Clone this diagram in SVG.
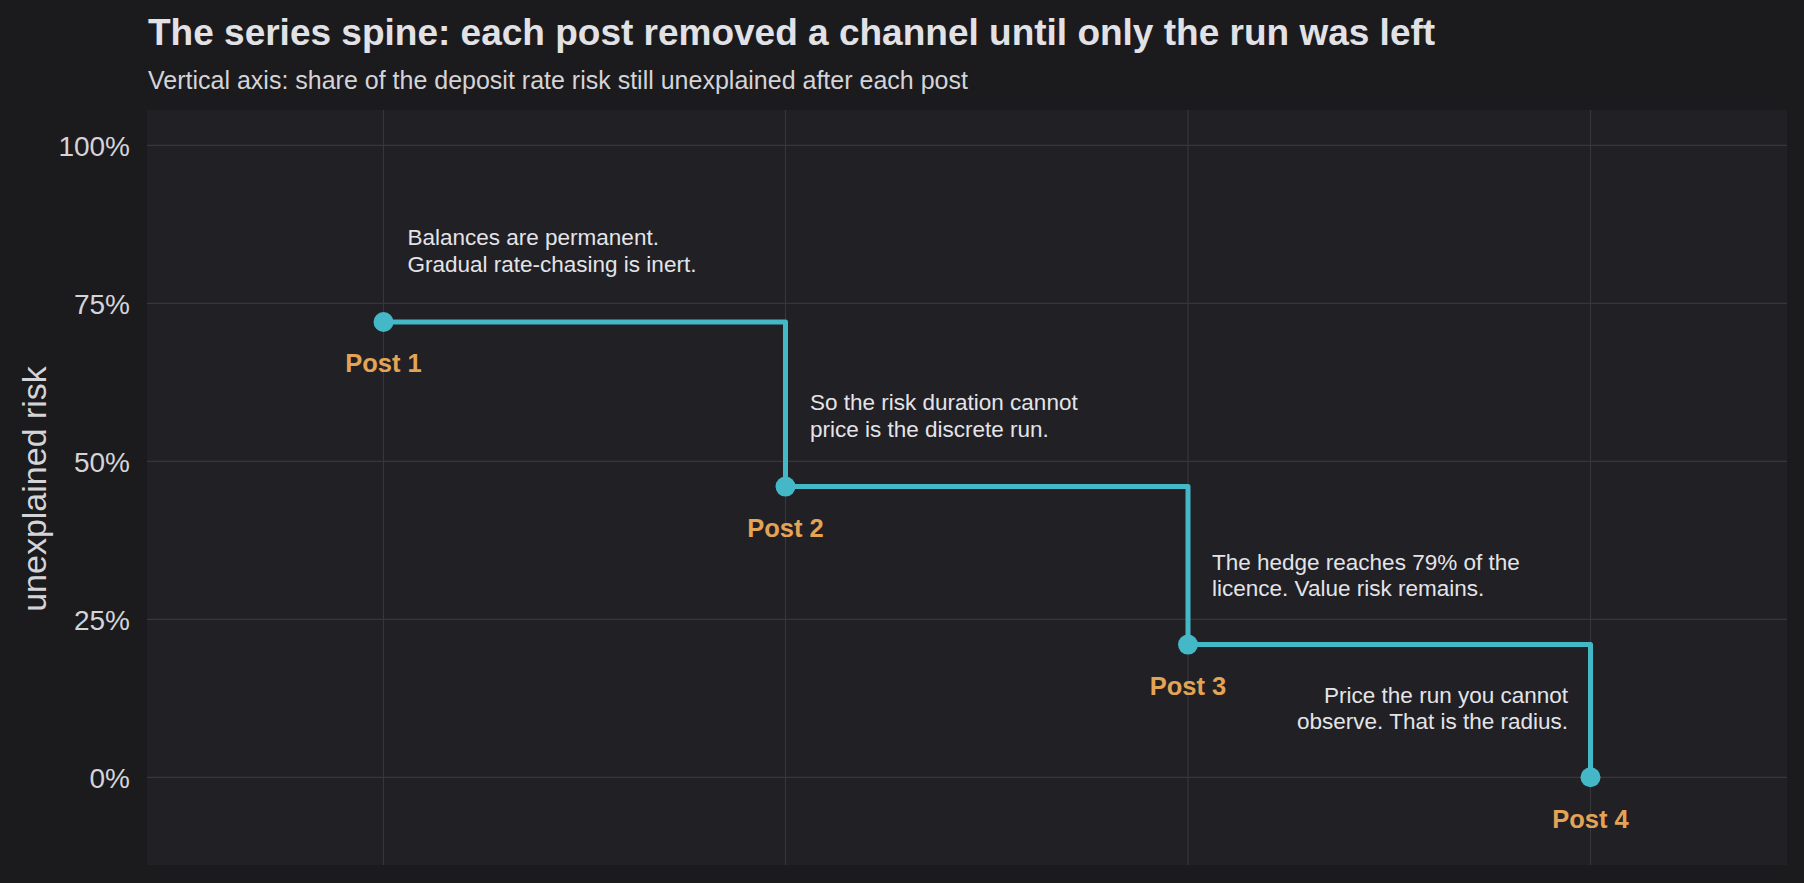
<svg xmlns="http://www.w3.org/2000/svg" width="1804" height="883" viewBox="0 0 1804 883">
<style>
text{font-family:"Liberation Sans",Arial,sans-serif}
.grid{stroke:#36363d;stroke-width:1.2}
.tick{fill:#d4d4d8;font-size:28px;text-anchor:end}
.ann{fill:#e4e4e8;font-size:22.5px}
.post{fill:#e3a455;font-size:25.5px;font-weight:bold;text-anchor:middle}
.dot{fill:#45b8c8}
</style>
<rect width="1804" height="883" fill="#1b1b1e"/>
<rect x="147" y="110" width="1640" height="755" fill="#202025"/>
<g id="grid">
<line class="grid" x1="147" y1="145.3" x2="1787" y2="145.3"/>
<line class="grid" x1="147" y1="303.3" x2="1787" y2="303.3"/>
<line class="grid" x1="147" y1="461.3" x2="1787" y2="461.3"/>
<line class="grid" x1="147" y1="619.3" x2="1787" y2="619.3"/>
<line class="grid" x1="147" y1="777.3" x2="1787" y2="777.3"/>
<line class="grid" x1="383.5" y1="110" x2="383.5" y2="865"/>
<line class="grid" x1="785.5" y1="110" x2="785.5" y2="865"/>
<line class="grid" x1="1188" y1="110" x2="1188" y2="865"/>
<line class="grid" x1="1590.5" y1="110" x2="1590.5" y2="865"/>
</g>
<g id="axis">
<text class="tick" x="130" y="156">100%</text>
<text class="tick" x="130" y="314">75%</text>
<text class="tick" x="130" y="472">50%</text>
<text class="tick" x="130" y="630">25%</text>
<text class="tick" x="130" y="788">0%</text>
<text x="0" y="0" transform="translate(46,489) rotate(-90)" fill="#d4d4d8" font-size="34" text-anchor="middle">unexplained risk</text>
</g>
<text x="148" y="45" fill="#e2e2e6" font-size="37" font-weight="bold">The series spine: each post removed a channel until only the run was left</text>
<text x="148" y="89" fill="#d4d4d8" font-size="25">Vertical axis: share of the deposit rate risk still unexplained after each post</text>
<g id="connectors">
<path d="M383.5 322 H785.5 V486.6 H1188 V644.6 H1590.5 V777.3" fill="none" stroke="#45b8c8" stroke-width="5" stroke-linejoin="round"/>
</g>
<g id="post1"><circle class="dot" cx="383.5" cy="322" r="10"/><text class="post" x="383.5" y="372">Post 1</text>
<text class="ann" x="407.5" y="245">Balances are permanent.</text><text class="ann" x="407.5" y="272">Gradual rate-chasing is inert.</text></g>
<g id="post2"><circle class="dot" cx="785.5" cy="486.6" r="10"/><text class="post" x="785.5" y="537">Post 2</text>
<text class="ann" x="810" y="410">So the risk duration cannot</text><text class="ann" x="810" y="437">price is the discrete run.</text></g>
<g id="post3"><circle class="dot" cx="1188" cy="644.6" r="10"/><text class="post" x="1188" y="695">Post 3</text>
<text class="ann" x="1212" y="570">The hedge reaches 79% of the</text><text class="ann" x="1212" y="596">licence. Value risk remains.</text></g>
<g id="post4"><circle class="dot" cx="1590.5" cy="777.3" r="10"/><text class="post" x="1590.5" y="828">Post 4</text>
<text class="ann" x="1568" y="703" text-anchor="end">Price the run you cannot</text><text class="ann" x="1568" y="729" text-anchor="end">observe. That is the radius.</text></g>
</svg>
